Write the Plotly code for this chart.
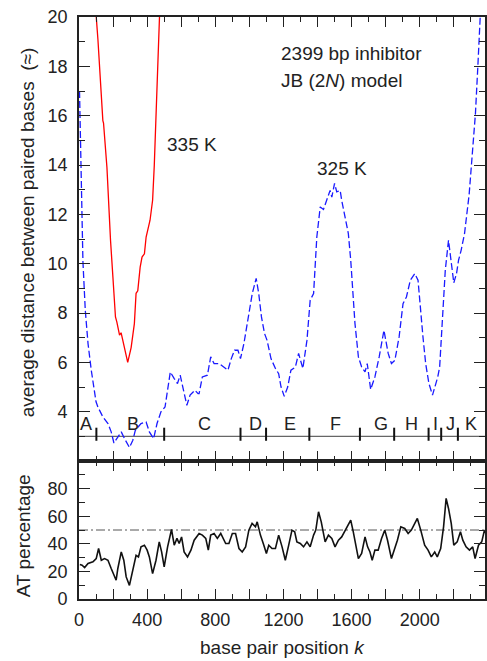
import plotly.graph_objects as go

# ---------------- data ----------------
# 325 K curve (blue dashed): base pair position k, average distance
k325 = [3, 8, 14, 23, 37, 53, 72, 92, 100, 111, 140, 170, 189, 205, 228, 248, 267, 296, 316, 331,
        364, 394, 413, 438, 458, 481, 505, 520, 536, 559, 578, 594, 613, 633, 652, 680, 699, 705,
        724, 754, 773, 793, 822, 851, 874, 894, 913, 933, 948, 968, 987, 1003, 1017, 1040, 1055,
        1071, 1089, 1104, 1127, 1153, 1172, 1186, 1205, 1225, 1244, 1270, 1289, 1314, 1338, 1357,
        1377, 1396, 1416, 1435, 1454, 1474, 1484, 1500, 1513, 1533, 1542, 1562, 1581, 1595, 1606,
        1620, 1640, 1659, 1679, 1692, 1712, 1737, 1762, 1790, 1815, 1834, 1854, 1879, 1902, 1922,
        1945, 1971, 1990, 2004, 2019, 2035, 2054, 2075, 2097, 2106, 2117, 2132, 2150, 2169, 2185,
        2200, 2216, 2228, 2243, 2263, 2290, 2311, 2327, 2341, 2354, 2362]
d325 = [17.0, 15.0, 12.6, 10.1, 8.1, 6.76, 5.68, 4.6, 4.4, 4.19, 3.79, 3.52, 3.18, 2.73, 2.97, 3.18,
        2.91, 2.55, 2.84, 3.25, 3.52, 3.58, 3.18, 2.91, 3.52, 3.99, 4.19, 4.87, 5.61, 5.34, 5.14,
        5.48, 4.87, 4.26, 4.67, 4.87, 4.73, 4.73, 5.41, 5.48, 6.22, 5.95, 5.95, 5.81, 5.68, 6.15,
        6.49, 6.49, 6.15, 6.76, 7.57, 8.11, 8.79, 9.40, 8.79, 7.84, 7.17, 6.89, 6.15, 5.75, 5.54,
        5.0, 4.62, 5.0, 5.68, 5.81, 6.36, 5.75, 6.89, 8.52, 8.79, 11.08, 12.30, 12.2, 12.55, 12.97,
        12.7, 13.25, 12.91, 12.97, 12.57, 11.89, 11.22, 10.14, 8.92, 7.57, 6.22, 5.81, 5.61, 5.95,
        4.90, 5.41, 6.22, 7.30, 6.36, 5.95, 6.08, 7.03, 8.38, 8.65, 9.33, 9.60, 9.33, 8.11, 7.03,
        5.95, 5.14, 4.67, 5.14, 5.41, 5.81, 7.84, 9.73, 10.95, 10.0, 9.22, 9.6, 10.14, 10.54, 11.22,
        12.8, 14.6, 16.08, 17.97, 20.0, 21.0]

# 335 K curve (red solid)
k335 = [98, 111, 140, 144, 164, 175, 185, 199, 214, 222, 238, 247, 261, 286, 306, 325, 335, 345,
        359, 370, 384, 394, 417, 432, 442, 471, 474]
d335 = [20.3, 19.1, 15.8, 15.7, 13.9, 12.03, 10.95, 9.46, 7.84, 7.64, 7.1, 7.2, 6.76, 6.0, 6.6,
        7.57, 8.8, 8.9, 9.86, 10.27, 10.4, 11.08, 11.76, 12.57, 14.0, 20.0, 20.3]

# AT percentage (bottom panel)
k_at = [5, 18, 33, 53, 82, 101, 115, 131, 150, 170, 189, 209, 218, 228, 248, 263, 277, 296, 316,
        335, 349, 364, 384, 400, 413, 432, 452, 471, 485, 500, 520, 543, 559, 575, 588, 602, 617,
        637, 657, 676, 705, 724, 744, 759, 773, 793, 812, 832, 861, 880, 900, 919, 939, 958, 978,
        997, 1016, 1036, 1046, 1065, 1085, 1100, 1114, 1133, 1153, 1172, 1192, 1211, 1231, 1250,
        1266, 1279, 1299, 1318, 1338, 1357, 1377, 1390, 1406, 1422, 1435, 1445, 1464, 1484, 1503,
        1523, 1542, 1562, 1581, 1595, 1610, 1630, 1640, 1659, 1679, 1694, 1708, 1721, 1737, 1756,
        1776, 1795, 1811, 1834, 1854, 1869, 1889, 1912, 1932, 1951, 1971, 1986, 2006, 2029, 2049,
        2068, 2088, 2103, 2123, 2140, 2155, 2169, 2185, 2200, 2220, 2239, 2253, 2272, 2292, 2311,
        2325, 2345, 2364, 2380, 2390]
at_pct = [25, 24.5, 22.8, 25.7, 26.9, 29.3, 36.6, 28.1, 29.3, 28.1, 22.1, 16.0, 13.6, 22.1, 34.1,
          28.1, 16.0, 9.9, 22.1, 31.7, 30.5, 37.8, 39.0, 35.4, 30.5, 18.4, 28.1, 41.4, 34.1, 23.2,
          37.8, 50.4, 39.0, 43.9, 40.2, 45.0, 34.1, 30.5, 35.4, 42.6, 47.5, 46.3, 43.9, 35.4, 46.3,
          47.5, 43.9, 47.5, 40.2, 40.2, 47.5, 47.5, 36.6, 34.1, 37.8, 49.9, 54.8, 52.3, 55.9, 46.3,
          39.0, 33.0, 39.0, 36.6, 36.6, 46.3, 37.8, 28.1, 39.0, 49.9, 48.7, 41.4, 40.2, 37.8, 41.4,
          37.8, 46.3, 49.9, 63.2, 55.9, 47.5, 41.4, 46.3, 43.9, 37.8, 42.6, 45.0, 49.9, 53.5, 57.1,
          48.7, 34.1, 29.3, 33.0, 45.0, 37.8, 34.1, 28.1, 35.4, 35.4, 43.9, 49.9, 42.6, 29.3, 36.6,
          42.6, 52.3, 51.1, 47.5, 49.9, 54.8, 58.4, 49.9, 39.0, 35.4, 30.5, 34.1, 30.5, 36.6, 52.3,
          72.9, 65.6, 54.8, 39.0, 41.4, 48.7, 42.6, 37.8, 35.4, 37.8, 29.3, 39.0, 41.4, 49.9, 47.0]

at_ref = 50  # dash-dot reference level

# sequence regions
region_bounds = [102, 500, 948, 1098, 1352, 1649, 1850, 2052, 2126, 2224]
region_names = ["A", "B", "C", "D", "E", "F", "G", "H", "I", "J", "K"]
region_centers = [43, 316, 734, 1036, 1237, 1503, 1772, 1951, 2091, 2179, 2302]
region_level = 3.0

x_ticks = [0, 200, 400, 600, 800, 1000, 1200, 1400, 1600, 1800, 2000, 2200]
x_ticktext = ["0", "", "400", "", "800", "", "1200", "", "1600", "", "2000", ""]
y_top_ticks = [4, 6, 8, 10, 12, 14, 16, 18, 20]
y_bot_ticks = [0, 20, 40, 60, 80, 100]
y_bot_text = ["0", "20", "40", "60", "80", ""]

# ---------------- layout helpers ----------------
W, H = 487, 661
ML, MR, MT, MB = 79, 0, 17, 62
PW, PH = W - ML - MR, H - MT - MB
SPLIT_PX = 461
split = (H - MB - SPLIT_PX) / PH


def px_x(p):
    return (p - ML) / PW


def px_y(p):
    return (H - MB - p) / PH


FONT = "Liberation Sans, Arial, Helvetica, sans-serif"
AXC = "#222222"

fig = go.Figure()

# region bar
fig.add_trace(go.Scatter(x=[0, 2400], y=[region_level, region_level], mode="lines",
                         line=dict(color="#666666", width=1.2), xaxis="x", yaxis="y",
                         showlegend=False, hoverinfo="skip"))
bx, by = [], []
for b in region_bounds:
    bx += [b, b, None]
    by += [region_level - 0.18, region_level + 0.35, None]
fig.add_trace(go.Scatter(x=bx, y=by, mode="lines", line=dict(color="#111111", width=2),
                         xaxis="x", yaxis="y", showlegend=False, hoverinfo="skip"))

# curves
fig.add_trace(go.Scatter(x=k325, y=d325, mode="lines",
                         line=dict(color="#1a1aff", width=1.3, dash="7px,3px"),
                         xaxis="x", yaxis="y", showlegend=False))
fig.add_trace(go.Scatter(x=k335, y=d335, mode="lines",
                         line=dict(color="#ff0000", width=1.3),
                         xaxis="x", yaxis="y", showlegend=False))

# bottom panel
fig.add_trace(go.Scatter(x=[0, 2400], y=[at_ref, at_ref], mode="lines",
                         line=dict(color="#555555", width=1, dash="9px,3px,2px,3px"),
                         xaxis="x2", yaxis="y2", showlegend=False, hoverinfo="skip"))
fig.add_trace(go.Scatter(x=k_at, y=at_pct, mode="lines",
                         line=dict(color="#111111", width=1.6),
                         xaxis="x2", yaxis="y2", showlegend=False))

axis_common = dict(showline=True, linecolor=AXC, linewidth=1.6, mirror="ticks",
                   ticks="inside", tickcolor=AXC, tickwidth=1.4, showgrid=False,
                   zeroline=False, tickfont=dict(family=FONT, size=18, color=AXC))
xr = [0, PW / 0.1712]

fig.update_layout(
    width=W, height=H, margin=dict(l=ML, r=MR, t=MT, b=MB),
    paper_bgcolor="white", plot_bgcolor="white",
    xaxis=dict(axis_common, range=xr, domain=[0, 1], anchor="y",
               tickvals=x_ticks, ticktext=x_ticktext, ticklen=10, showticklabels=False,
               minor=dict(tickvals=[v + 100 for v in x_ticks], ticks="inside", ticklen=5,
                          tickcolor=AXC, tickwidth=1.2)),
    yaxis=dict(axis_common, range=[2, 20], domain=[split, 1], anchor="x",
               tickvals=y_top_ticks, ticklen=11, ticklabelstandoff=6,
               minor=dict(tickvals=[3, 5, 7, 9, 11, 13, 15, 17, 19], ticks="inside", ticklen=6,
                          tickcolor=AXC, tickwidth=1.2)),
    xaxis2=dict(axis_common, range=xr, domain=[0, 1], anchor="y2", matches="x",
                tickvals=x_ticks, ticktext=x_ticktext, ticklen=10, ticklabelstandoff=4,
                minor=dict(tickvals=[v + 100 for v in x_ticks], ticks="inside", ticklen=5,
                           tickcolor=AXC, tickwidth=1.2)),
    yaxis2=dict(axis_common, range=[0, 100], domain=[0, split], anchor="x2",
                tickvals=y_bot_ticks, ticktext=y_bot_text, ticklen=11, ticklabelstandoff=6,
                minor=dict(tickvals=[10, 30, 50, 70, 90], ticks="inside", ticklen=6,
                           tickcolor=AXC, tickwidth=1.2)),
)

ann = []
for name, c in zip(region_names, region_centers):
    ann.append(dict(x=c, y=3.49, xref="x", yref="y", text=name, showarrow=False,
                    xanchor="center", yanchor="middle",
                    font=dict(family=FONT, size=18, color=AXC)))

txt = dict(showarrow=False, font=dict(family=FONT, size=19, color=AXC))
ann += [
    dict(txt, x=1172, y=18.52, xref="x", yref="y", text="2399 bp inhibitor",
         xanchor="left", yanchor="middle"),
    dict(txt, x=1172, y=17.43, xref="x", yref="y", text="JB (2<i>N</i>) model",
         xanchor="left", yanchor="middle"),
    dict(txt, x=506, y=14.84, xref="x", yref="y", text="335 K",
         xanchor="left", yanchor="middle"),
    dict(txt, x=1383, y=13.85, xref="x", yref="y", text="325 K",
         xanchor="left", yanchor="middle"),
    dict(txt, x=px_x(27), y=px_y(232), xref="paper", yref="paper", textangle=-90,
         text="average distance between paired bases  (≈)", xanchor="center", yanchor="middle"),
    dict(txt, x=px_x(23), y=px_y(536), xref="paper", yref="paper", textangle=-90,
         text="AT percentage", xanchor="center", yanchor="middle"),
    dict(txt, x=px_x(283), y=px_y(647), xref="paper", yref="paper",
         text="base pair position <i>k</i>", xanchor="center", yanchor="middle"),
]
fig.update_layout(annotations=ann)

fig.write_html("out.html")
